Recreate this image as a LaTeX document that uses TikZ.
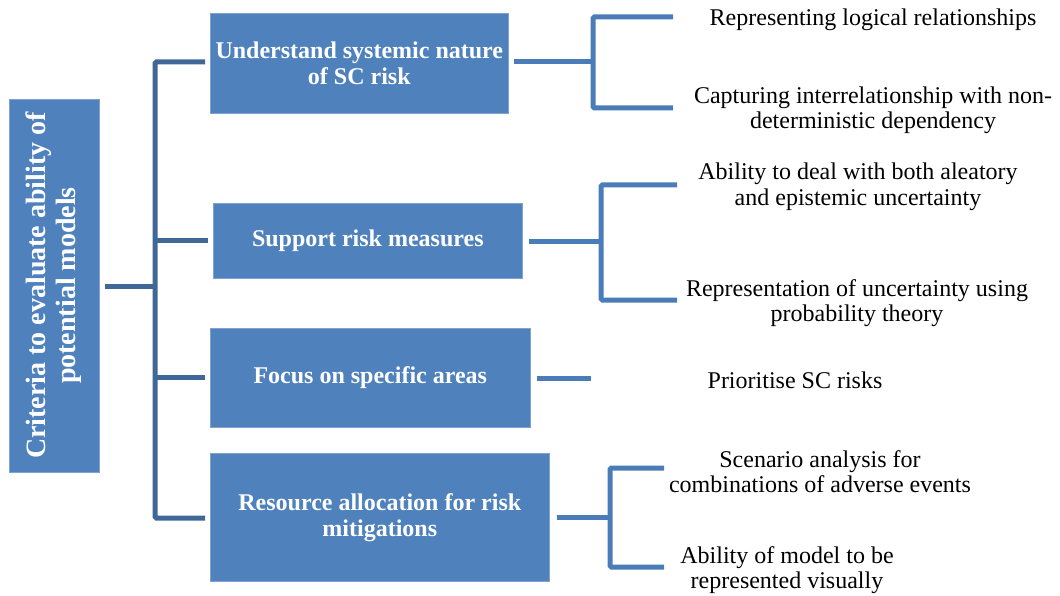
\documentclass[tikz,border=0pt]{standalone}
\usepackage{fontspec}
\setmainfont{Liberation Serif}
\definecolor{boxblue}{HTML}{4F81BD}
\definecolor{boxedge}{HTML}{7FA2D2}
\definecolor{trunkblue}{HTML}{3F6896}
\definecolor{twigblue}{HTML}{4A7CB8}
\begin{document}
\begin{tikzpicture}[x=1pt,y=-1pt,
  catbox/.style={fill=boxblue, draw=boxedge, line width=0.6pt, text=white,
    font=\fontsize{24}{26}\selectfont\bfseries, align=center, inner sep=0pt,
    anchor=north west},
  rootbox/.style={fill=boxblue, draw=boxedge, line width=0.6pt, text=white,
    font=\fontsize{28}{30}\selectfont\bfseries, inner sep=0pt},
  leaf/.style={font=\fontsize{24}{25.5}\selectfont, align=center, inner sep=0pt},
  trunk/.style={draw=trunkblue, line width=5pt, rounded corners=1.5pt},
  twig/.style={draw=twigblue, line width=5pt, rounded corners=1.5pt},
  stub/.style={draw=twigblue, line width=5pt}]
\useasboundingbox (0,0) rectangle (1060,596);

% root criterion, text reading bottom to top
\node[rootbox, minimum width=90, minimum height=373] (root) at (54,285.5)
  {\rotatebox{90}{\begin{tabular}{@{}c@{}}Criteria to evaluate ability of\\potential models\end{tabular}}};

% the four criteria groups
\node[catbox, minimum width=298, minimum height=100] (b1) at (210,13)
  {Understand systemic nature\\of SC risk};
\node[catbox, minimum width=309, minimum height=75] (b2) at (213,203)
  {Support risk measures};
\node[catbox, minimum width=320, minimum height=99] (b3) at (210,328)
  {Focus on specific areas};
\node[catbox, minimum width=339, minimum height=128] (b4) at (210,453)
  {Resource allocation for risk\\mitigations};

% individual criteria
\node[leaf] (l11) at (873,19.5) {Representing logical relationships};
\node[leaf] (l12) at (873,110.5) {Capturing interrelationship with non-\\deterministic dependency};
\node[leaf] (l21) at (858,187) {Ability to deal with both aleatory\\and epistemic uncertainty};
\node[leaf] (l22) at (857,303) {Representation of uncertainty using\\probability theory};
\node[leaf] (l31) at (795,380) {Prioritise SC risks};
\node[leaf] (l41) at (820,471.5) {Scenario analysis for\\combinations of adverse events};
\node[leaf] (l42) at (787,570) {Ability of model to be\\represented visually};

% left tree
\coordinate (hub) at (155,286);
\draw[trunk] ([xshift=6pt]root.east |- hub) -- (hub);
\draw[trunk] ([xshift=-5pt]b1.west |- 0,62) -- (hub |- 0,62) -- (hub |- 0,518) -- ([xshift=-5pt]b4.west |- 0,518);
\draw[trunk] (hub |- b2.west) -- ([xshift=-5pt]b2.west);
\draw[trunk] (hub |- 0,377) -- ([xshift=-5pt]b3.west |- 0,377);

% right brackets
\coordinate (k1) at (593,62);
\coordinate (e11) at (673,17);
\coordinate (e12) at (673,108);
\draw[twig] ([xshift=5pt]b1.east |- k1) -- (k1);
\draw[twig] (e11) -- (k1 |- e11) -- (k1 |- e12) -- (e12);

\coordinate (k2) at (601,241);
\coordinate (e21) at (677,185);
\coordinate (e22) at (677,300);
\draw[twig] ([xshift=6pt]b2.east |- k2) -- (k2);
\draw[twig] (e21) -- (k2 |- e21) -- (k2 |- e22) -- (e22);

\coordinate (e31) at (591,378);
\draw[stub] ([xshift=6pt]b3.east |- e31) -- (e31);

\coordinate (k4) at (610,517);
\coordinate (e41) at (664,468);
\coordinate (e42) at (664,567);
\draw[twig] ([xshift=7pt]b4.east |- k4) -- (k4);
\draw[twig] (e41) -- (k4 |- e41) -- (k4 |- e42) -- (e42);
\end{tikzpicture}
\end{document}
